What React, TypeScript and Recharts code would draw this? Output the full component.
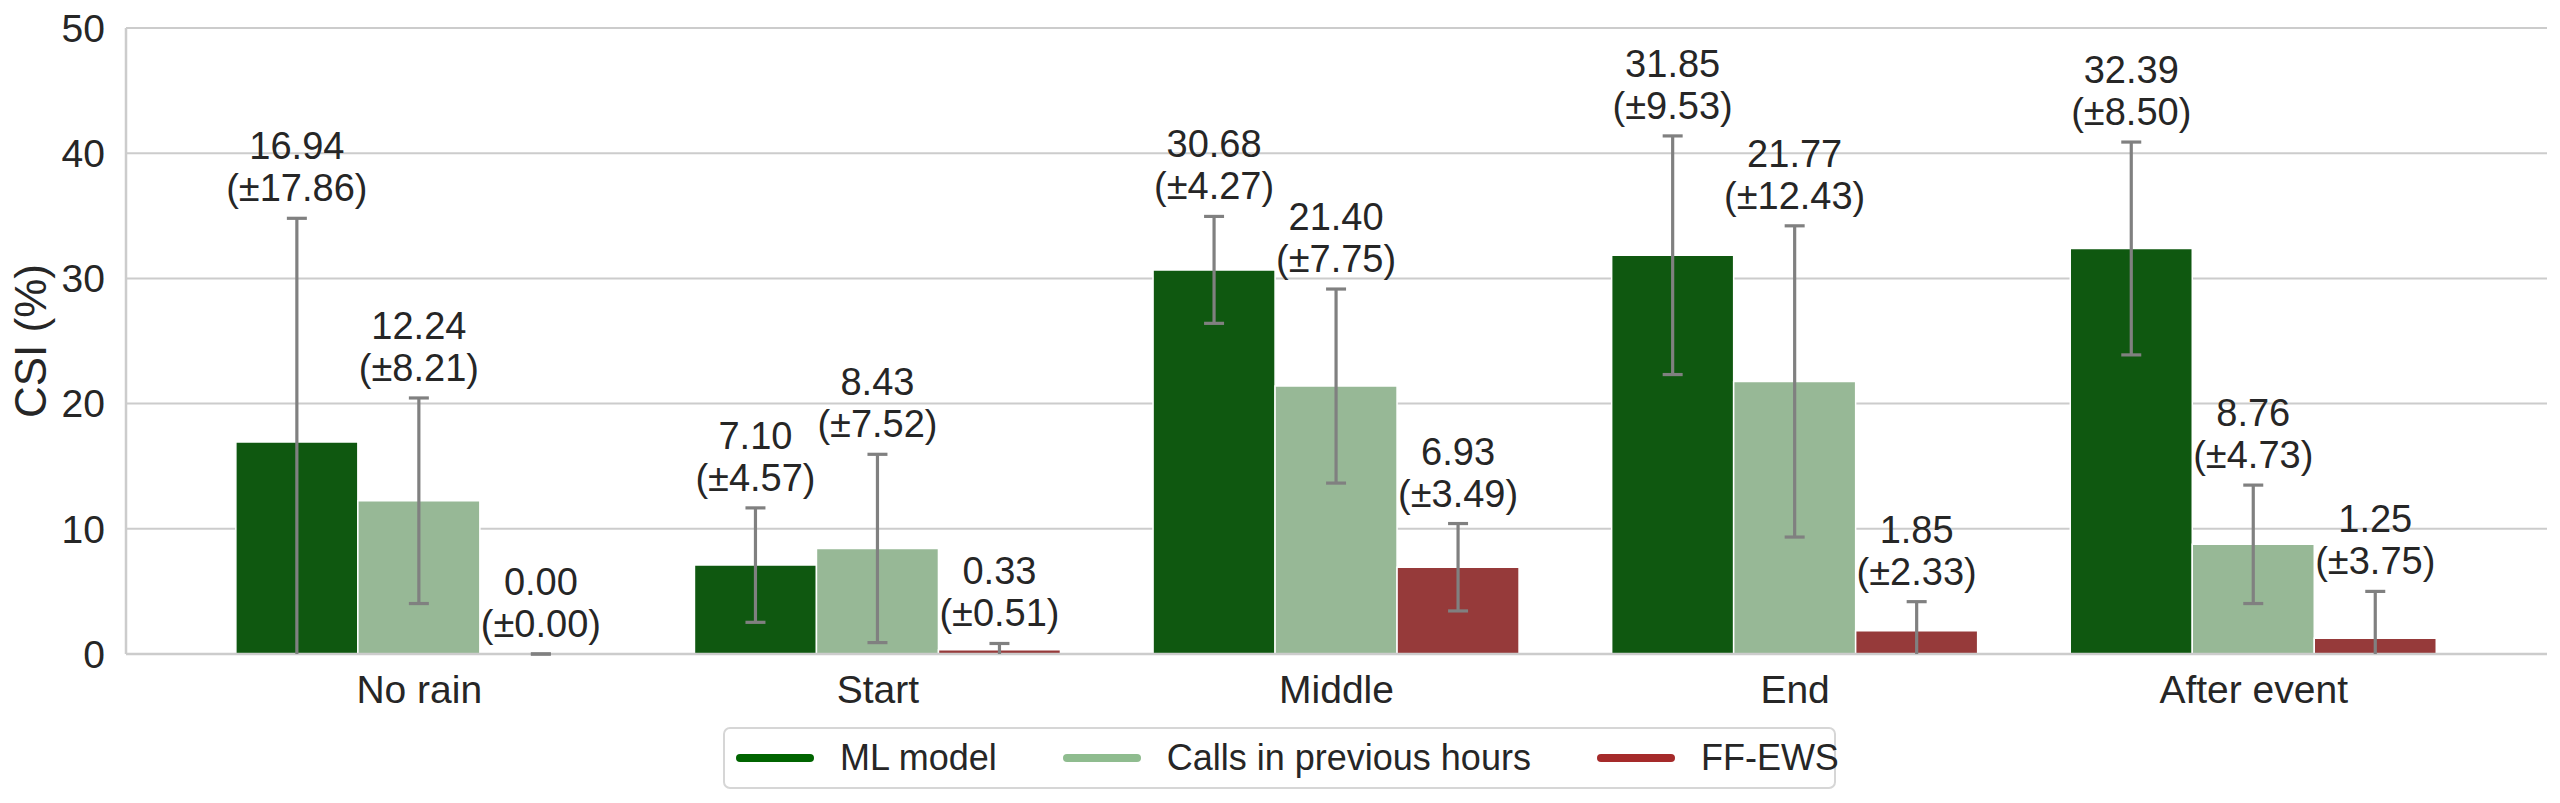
import { BarChart, Bar, XAxis, YAxis, CartesianGrid, LabelList } from "recharts";

const categories = ["No rain", "Start", "Middle", "End", "After event"];

const mlMean = [16.94, 7.1, 30.68, 31.85, 32.39];
const mlStd = [17.86, 4.57, 4.27, 9.53, 8.5];

const callsMean = [12.24, 8.43, 21.4, 21.77, 8.76];
const callsStd = [8.21, 7.52, 7.75, 12.43, 4.73];

const ewsMean = [0.0, 0.33, 6.93, 1.85, 1.25];
const ewsStd = [0.0, 0.51, 3.49, 2.33, 3.75];

const yTicks = [0, 10, 20, 30, 40, 50];

const series = [
  { key: "ml", name: "ML model", mean: mlMean, std: mlStd, fill: "#0f5810", legend: "#006400" },
  { key: "calls", name: "Calls in previous hours", mean: callsMean, std: callsStd, fill: "#97b896", legend: "#8fbc8f" },
  { key: "ews", name: "FF-EWS", mean: ewsMean, std: ewsStd, fill: "#963a3a", legend: "#a52a2a" },
];

const data = categories.map((c, i) => ({
  category: c,
  ml: mlMean[i],
  calls: callsMean[i],
  ews: ewsMean[i],
}));

const FONT = "'Liberation Sans', Arial, sans-serif";
const TEXT = "#262626";
const GRID = "#cccccc";
const ERR = "#808080";

// error bar + two-line label, placed from the bar geometry the library computed
function makeLabel(mean: number[], std: number[]) {
  return (props: any) => {
    const vb = props.viewBox || {};
    const x = props.x ?? vb.x;
    const y = props.y ?? vb.y;
    const width = props.width ?? vb.width;
    const height = props.height ?? vb.height;
    const i = categories.indexOf(props.value);
    if (i < 0) return null;
    const m = mean[i];
    const s = std[i];
    const base = y + height;
    const ppu = m > 0 ? height / m : 0;
    const top = y - s * ppu;
    const low = y + s * ppu;
    const bottom = Math.min(low, base);
    const cx = x + width / 2;
    return (
      <g>
        <line x1={cx} x2={cx} y1={top} y2={bottom} stroke={ERR} strokeWidth={3.2} />
        <line x1={cx - 10} x2={cx + 10} y1={top} y2={top} stroke={ERR} strokeWidth={3.2} />
        {low <= base + 0.5 && (
          <line x1={cx - 10} x2={cx + 10} y1={low} y2={low} stroke={ERR} strokeWidth={3.2} />
        )}
        <text x={cx} y={top - 59} textAnchor="middle" fontSize={38} fill={TEXT} fontFamily={FONT}>
          {m.toFixed(2)}
        </text>
        <text x={cx} y={top - 17} textAnchor="middle" fontSize={38} fill={TEXT} fontFamily={FONT}>
          {`(±${s.toFixed(2)})`}
        </text>
      </g>
    );
  };
}

function YLabel(props: any) {
  const vb = props.viewBox;
  const x = vb.x + 46;
  const y = vb.y + vb.height / 2;
  return (
    <text
      transform={`translate(${x},${y}) rotate(-90)`}
      textAnchor="middle"
      fontSize={44}
      fill={TEXT}
      fontFamily={FONT}
    >
      CSI (%)
    </text>
  );
}

function App() {
  return (
    <div style={{ position: "absolute", left: 0, top: 0, width: 2560, height: 803, background: "#fff" }}>
      <BarChart
        width={2560}
        height={803}
        data={data}
        margin={{ top: 28, right: 13, bottom: 0, left: 0 }}
        barCategoryGap="10%"
        barGap={0}
      >
        <CartesianGrid yAxisId="left" vertical={false} stroke={GRID} strokeWidth={2} />
        <XAxis
          dataKey="category"
          height={149}
          padding={{ left: 64, right: 64 }}
          tickLine={false}
          tickSize={0}
          tickMargin={21}
          axisLine={{ stroke: GRID, strokeWidth: 2.5 }}
          tick={{ fontSize: 39, fill: TEXT, fontFamily: FONT }}
        />
        <YAxis
          yAxisId="left"
          width={126}
          domain={[0, 50]}
          ticks={yTicks}
          allowDataOverflow
          tickLine={false}
          tickSize={0}
          tickMargin={21}
          axisLine={{ stroke: GRID, strokeWidth: 2.5 }}
          tick={{ fontSize: 39, fill: TEXT, fontFamily: FONT }}
          label={<YLabel />}
        />
        <YAxis
          yAxisId="right"
          orientation="right"
          width={0}
          domain={[0, 50]}
          tick={false}
          tickLine={false}
          axisLine={{ stroke: GRID, strokeWidth: 2.5 }}
        />
        {series.map((s) => (
          <Bar
            key={s.key}
            yAxisId="left"
            dataKey={s.key}
            name={s.name}
            fill={s.fill}
            stroke="#ffffff"
            strokeWidth={1.5}
            minPointSize={0.01}
            isAnimationActive={false}
          >
            <LabelList dataKey="category" content={makeLabel(s.mean, s.std)} />
          </Bar>
        ))}
      </BarChart>
      <div
        style={{
          position: "absolute",
          left: 723,
          top: 727,
          width: 1113,
          height: 62,
          boxSizing: "border-box",
          border: "2px solid #d6d6d6",
          borderRadius: 7,
          background: "#fff",
          display: "flex",
          alignItems: "center",
          paddingLeft: 11,
          fontFamily: FONT,
          fontSize: 36,
          color: TEXT,
        }}
      >
        {series.map((s, i) => (
          <div key={s.key} style={{ display: "flex", alignItems: "center", marginRight: i < series.length - 1 ? 66 : 0 }}>
            <div style={{ width: 78, height: 8, borderRadius: 4, background: s.legend, marginRight: 26 }} />
            <span style={{ whiteSpace: "nowrap" }}>{s.name}</span>
          </div>
        ))}
      </div>
    </div>
  );
}

export default App;
